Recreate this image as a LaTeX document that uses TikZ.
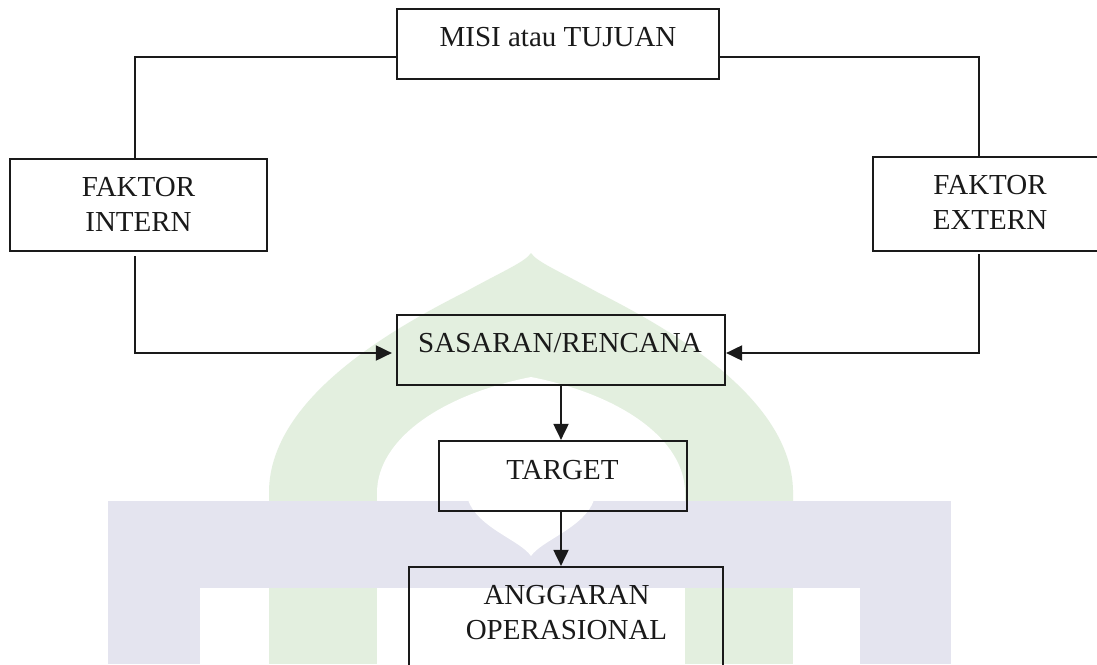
\documentclass[tikz,border=0pt]{standalone}
\usepackage{fontspec}
\setmainfont{Liberation Serif}
\usetikzlibrary{arrows.meta,calc}
\definecolor{wmgreen}{RGB}{227,239,223}
\definecolor{wmblue}{RGB}{228,228,239}
\definecolor{ink}{RGB}{26,26,26}
\begin{document}
\begin{tikzpicture}[x=1pt,y=-1pt,
  box/.style={draw=ink,line width=2.2pt,inner sep=0pt},
  txt/.style={font=\fontsize{29}{35}\selectfont,text=ink,inner sep=0pt,align=center},
  ln/.style={draw=ink,line width=1.9pt},
  arr/.style={ln,-{Triangle[length=16pt,width=15pt]}}]
\useasboundingbox (0,0) rectangle (1097,664);
\clip (0,0) rectangle (1097,664);
\fill[white] (0,0) rectangle (1097,664);
% ---- watermark ----
\fill[wmgreen] (269,502) -- (269,495) .. controls (267,400) and (390,330) .. (465,292)
  .. controls (505,270) and (525,262) .. (531,253)
  .. controls (537,262) and (557,270) .. (597,292)
  .. controls (672,330) and (795,400) .. (793,495) -- (793,502) -- cycle;
\fill[white] (377,502) -- (377,493) .. controls (377,440) and (440,395) .. (531,377)
  .. controls (622,395) and (685,440) .. (685,493) -- (685,502) -- cycle;
\fill[wmblue] (108,501) rectangle (951,588);
\fill[wmblue] (108,588) rectangle (200,664);
\fill[wmblue] (860,588) rectangle (951,664);
\fill[wmgreen] (269,588) rectangle (377,664);
\fill[wmgreen] (685,588) rectangle (793,664);
\fill[white] (468,500) .. controls (478,528) and (520,540) .. (531,556)
  .. controls (542,540) and (584,528) .. (594,500) -- cycle;
% ---- boxes ----
\node[box,minimum width=322pt,minimum height=70pt] (misi) at (558,44) {};
\node[box,minimum width=257pt,minimum height=92pt] (intern) at (138.5,205) {};
\node[box,minimum width=234pt,minimum height=94pt] (extern) at (990,204) {};
\node[box,minimum width=328pt,minimum height=70pt] (sas) at (561,350) {};
\node[box,minimum width=248pt,minimum height=70pt] (target) at (562.8,476) {};
\node[box,minimum width=314pt,minimum height=113pt] (angg) at (566,623.5) {};
% ---- texts ----
\node[txt,anchor=base] (misiT) at (558,46.7) {MISI atau TUJUAN};
\node[txt] (internT) at (138.5,204.2) {FAKTOR\\INTERN};
\node[txt] (externT) at (990,202.5) {FAKTOR\\EXTERN};
\node[txt,anchor=base] (sasT) at (560,352.7) {SASARAN/RENCANA};
\node[txt,anchor=base] (targetT) at (562.5,479.3) {TARGET};
\node[txt] (anggT) at (566.5,612.5) {ANGGARAN\\OPERASIONAL};
% ---- connectors ----
\coordinate (cti) at (135,56.7);
\coordinate (cbi) at (135,353);
\coordinate (cte) at (979,56.7);
\coordinate (cbe) at (979,353);
\draw[ln] (misi.west |- cti) -- (cti) -- (cti |- intern.north);
\draw[ln] (misi.east |- cte) -- (cte) -- (cte |- extern.north);
\draw[arr] ([yshift=-4pt]cbi |- intern.south) -- (cbi) -- ([xshift=-4pt]sas.west |- cbi);
\draw[arr] ([yshift=-2pt]cbe |- extern.south) -- (cbe) -- (sas.east |- cbe);
\draw[arr] (sas.south) -- (sas.south |- target.north);
\draw[arr] (sas.south |- target.south) -- (sas.south |- angg.north);
\end{tikzpicture}
\end{document}
